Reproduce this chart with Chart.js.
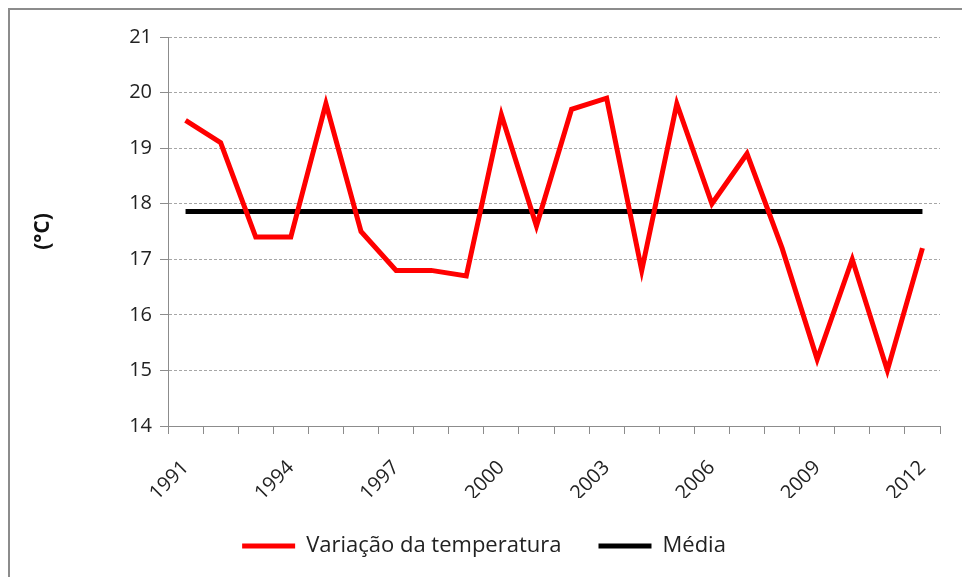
<!DOCTYPE html>
<html>
<head>
<meta charset="utf-8">
<script src="https://cdn.jsdelivr.net/npm/chart.js@4.4.1/dist/chart.umd.min.js"></script>
<style>
  html, body { margin: 0; padding: 0; background: #fff; }
  #wrap { position: relative; width: 962px; height: 577px; overflow: hidden; }
  #frame { position: absolute; left: 8px; top: 8px; right: -4px; bottom: -4px;
           border-top: 2px solid #8c8c8c; border-left: 2px solid #8c8c8c; }
  canvas { position: absolute; left: 0; top: 0; }
</style>
</head>
<body>
<div id="wrap">
  <div id="frame"></div>
  <canvas id="chartTemp" width="962" height="577"></canvas>
</div>
<script>
const anos = ['1991','1992','1993','1994','1995','1996','1997','1998','1999','2000','2001',
              '2002','2003','2004','2005','2006','2007','2008','2009','2010','2011','2012'];
const temperatura = [19.5, 19.1, 17.4, 17.4, 19.8, 17.5, 16.8, 16.8, 16.7, 19.6, 17.6,
                     19.7, 19.9, 16.8, 19.8, 18.0, 18.9, 17.2, 15.2, 17.0, 15.0, 17.2];
const media = [17.86, 17.86, 17.86, 17.86, 17.86, 17.86, 17.86, 17.86, 17.86, 17.86, 17.86,
               17.86, 17.86, 17.86, 17.86, 17.86, 17.86, 17.86, 17.86, 17.86, 17.86, 17.86];
const anosVisiveis = ['1991','1994','1997','2000','2003','2006','2009','2012'];

const fonte = "'Open Sans', 'Liberation Sans', sans-serif";

document.addEventListener('DOMContentLoaded', () => {
  const ctx = document.getElementById('chartTemp');
  new Chart(ctx, {
    type: 'line',
    data: {
      labels: anos,
      datasets: [{
        label: 'Variação da temperatura',
        data: temperatura,
        borderColor: '#ff0000',
        backgroundColor: '#ff0000',
        borderWidth: 5,
        pointRadius: 0,
        pointStyle: 'line',
        tension: 0
      },{
        label: 'Média',
        data: media,
        borderColor: '#000000',
        backgroundColor: '#000000',
        borderWidth: 5,
        pointRadius: 0,
        pointStyle: 'line',
        tension: 0
      }]
    },
    options: {
      responsive: false,
      animation: false,
      layout: { padding: { left: 28, right: 22, top: 37, bottom: 10 } },
      plugins: {
        legend: {
          position: 'bottom',
          labels: {
            color: '#222',
            font: { family: fonte, size: 22 },
            usePointStyle: true,
            pointStyleWidth: 53,
            boxHeight: 5,
            padding: 37
          }
        },
        tooltip: { enabled: false }
      },
      scales: {
        x: {
          offset: true,
          grid: { offset: true, drawOnChartArea: false, drawTicks: true, tickLength: 8, color: '#8c8c8c' },
          border: { color: '#8c8c8c', width: 1 },
          ticks: {
            autoSkip: false,
            maxRotation: 45,
            minRotation: 45,
            padding: 22,
            color: '#222',
            font: { family: fonte, size: 20 },
            callback: function(v) {
              const l = this.getLabelForValue(v);
              return anosVisiveis.includes(l) ? l : '';
            }
          },
          afterFit: (s) => { s.height = 72; }
        },
        y: {
          min: 14,
          max: 21,
          ticks: { stepSize: 1, color: '#222', font: { family: fonte, size: 20 }, padding: 8 },
          grid: { color: '#a6a6a6', tickLength: 8, tickColor: '#8c8c8c' },
          border: { color: '#8c8c8c', width: 1, dash: [3, 2] },
          title: {
            display: true,
            text: '(°C)',
            color: '#111',
            font: { family: fonte, size: 21, weight: 'bold' },
            padding: { top: 2, bottom: 0 }
          },
          afterFit: (s) => { s.width = 140; }
        }
      }
    }
  });
});
</script>
</body>
</html>
